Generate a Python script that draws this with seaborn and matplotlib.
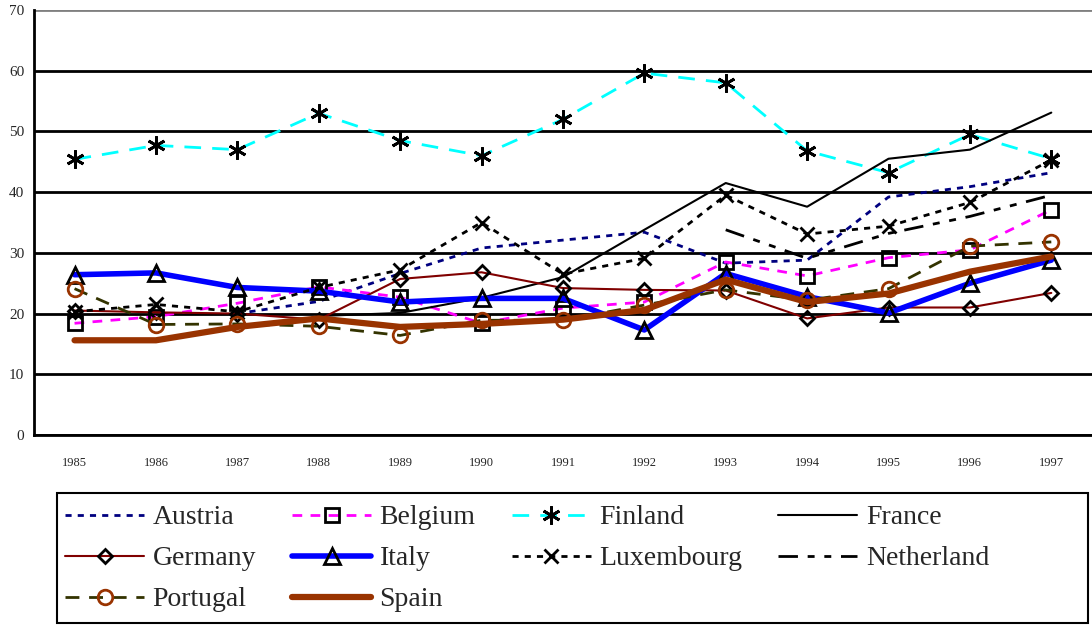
import numpy as np
import pandas as pd
import matplotlib
matplotlib.use('Agg')
import matplotlib.pyplot as plt
import seaborn as sns
from matplotlib.patches import Rectangle

nan = np.nan
years = list(range(1985, 1998))

austria = [nan, nan, 20.0, 22.0, 26.6, 30.8, 32.1, 33.4, 28.3, 28.8, 39.2, 40.9, 43.2]
belgium = [18.4, 19.5, 21.7, 24.4, 22.7, 18.4, 20.9, 21.9, 28.5, 26.2, 29.2, 30.5, 37.1]
finland = [45.4, 47.7, 47.0, 53.0, 48.5, 46.0, 52.0, 59.6, 58.0, 46.8, 43.2, 49.5, 45.5]
france = [nan, nan, nan, 19.6, 20.1, 22.6, 26.0, 33.8, 41.5, 37.6, 45.5, 47.0, 53.1]
germany = [20.5, 20.2, 20.0, 19.0, 25.7, 26.8, 24.2, 23.9, 23.8, 19.2, 21.0, 21.0, 23.4]
italy = [26.4, 26.7, 24.3, 23.7, 21.9, 22.5, 22.5, 17.3, 26.6, 22.8, 20.1, 25.0, 28.8]
luxembourg = [20.3, 21.5, 20.3, 24.3, 27.2, 35.0, 26.5, 29.1, 39.5, 33.1, 34.4, 38.3, 45.3]
netherland = [nan, nan, nan, nan, nan, nan, nan, nan, 33.8, 29.1, 33.2, 36.0, 39.5]
portugal = [24.1, 18.2, 18.3, 17.9, 16.4, 18.9, 18.9, 21.4, 23.9, 22.2, 24.1, 31.1, 31.8]
spain = [15.6, 15.6, 17.8, 19.2, 17.8, 18.3, 19.0, 20.6, 25.6, 21.9, 23.3, 26.9, 29.4]

sns.set_style('white')
plt.rcParams['font.family'] = ['Liberation Serif', 'DejaVu Serif']

fig = plt.figure(figsize=(10.92, 6.25), dpi=100)
ax = fig.add_axes([0.031, 0.304, 0.969, 0.68])

# (name, values, color, linewidth, dash, marker, marker size, marker edge color)
series = [
    ('Austria', austria, '#000080', 2.0, (0, (2.2, 2.2)), None, 0, 'black'),
    ('Belgium', belgium, '#FF00FF', 2.0, (0, (3.5, 3)), 's', 10, 'black'),
    ('Finland', finland, '#00FFFF', 2.0, (0, (6, 4)), (6, 2, 0), 13, 'black'),
    ('France', france, 'black', 1.5, '-', None, 0, 'black'),
    ('Germany', germany, '#800000', 1.5, '-', 'D', 7.5, 'black'),
    ('Italy', italy, '#0000FF', 4.0, '-', '^', 12, 'black'),
    ('Luxembourg', luxembourg, 'black', 2.0, (0, (2.2, 2.2)), 'x', 10, 'black'),
    ('Netherland', netherland, 'black', 2.0, (0, (7, 3.5, 2.5, 3.5, 2.5, 3.5)), None, 0, 'black'),
    ('Portugal', portugal, '#333300', 2.0, (0, (5, 3.5)), 'o', 10.5, '#993300'),
    ('Spain', spain, '#993300', 4.5, '-', None, 0, 'black'),
]

handles = {}
for name, vals, col, lw, ls, mk, ms, mec in series:
    df = pd.DataFrame({'year': years, 'value': vals}).dropna()
    sns.lineplot(data=df, x='year', y='value', ax=ax, color=col, lw=lw,
                 linestyle=ls, marker=mk, markersize=ms, markeredgecolor=mec,
                 markerfacecolor='none', markeredgewidth=2, estimator=None,
                 label=name, legend=False)
    handles[name] = ax.get_lines()[-1]

ax.set_xlim(1984.5, 1997.5)
ax.set_ylim(0, 70)
ax.set_yticks(range(0, 71, 10))
ax.set_xticks(np.arange(1984.5, 1998, 1))
ax.set_xticklabels([])
ax.set_xticks(years, minor=True)
ax.set_xticklabels([str(y) for y in years], minor=True, fontsize=9)
ax.tick_params(axis='x', which='major', length=5, width=2, direction='out', color='black')
ax.tick_params(axis='x', which='minor', length=0, pad=16)
ax.tick_params(axis='y', length=5, width=2, direction='out', color='black', labelsize=11, pad=2)
ax.set_xlabel('')
ax.set_ylabel('')
ax.yaxis.grid(True, color='black', lw=2)
ax.get_ygridlines()[-1].set_color('gray')
ax.set_axisbelow(True)
for s in ['top', 'right']:
    ax.spines[s].set_visible(False)
for s in ['left', 'bottom']:
    ax.spines[s].set_color('black')
    ax.spines[s].set_linewidth(2)

# legend frame drawn separately, legend itself without frame
fig.patches.append(Rectangle((0.0522, 0.0032), 0.944, 0.208, transform=fig.transFigure,
                             fill=False, edgecolor='black', lw=1.5))
order = ['Austria', 'Germany', 'Portugal', 'Belgium', 'Italy', 'Spain',
         'Finland', 'Luxembourg', 'France', 'Netherland']
leg = fig.legend([handles[n] for n in order], order, ncol=4, loc='upper left',
                 bbox_to_anchor=(0.0595, 0.192), fontsize=20, frameon=False,
                 handlelength=2.85, handletextpad=0.3, labelspacing=0.56,
                 columnspacing=1.3, borderpad=0, borderaxespad=0)

fig.savefig('out.png', dpi=100)
